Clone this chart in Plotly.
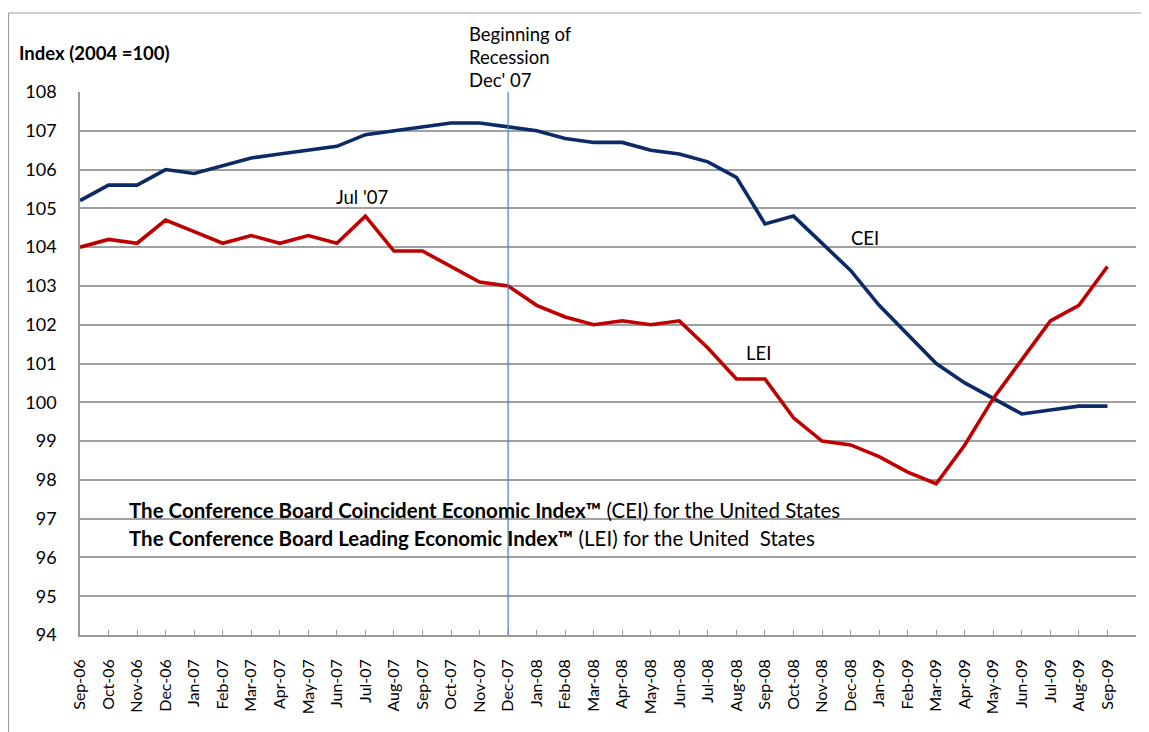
import plotly.graph_objects as go

months = ["Sep-06","Oct-06","Nov-06","Dec-06","Jan-07","Feb-07","Mar-07","Apr-07","May-07","Jun-07",
          "Jul-07","Aug-07","Sep-07","Oct-07","Nov-07","Dec-07","Jan-08","Feb-08","Mar-08","Apr-08",
          "May-08","Jun-08","Jul-08","Aug-08","Sep-08","Oct-08","Nov-08","Dec-08","Jan-09","Feb-09",
          "Mar-09","Apr-09","May-09","Jun-09","Jul-09","Aug-09","Sep-09"]
cei = [105.2,105.6,105.6,106.0,105.9,106.1,106.3,106.4,106.5,106.6,
       106.9,107.0,107.1,107.2,107.2,107.1,107.0,106.8,106.7,106.7,
       106.5,106.4,106.2,105.8,104.6,104.8,104.1,103.4,102.5,101.75,
       101.0,100.5,100.1,99.7,99.8,99.9,99.9]
lei = [104.0,104.2,104.1,104.7,104.4,104.1,104.3,104.1,104.3,104.1,
       104.8,103.9,103.9,103.5,103.1,103.0,102.5,102.2,102.0,102.1,
       102.0,102.1,101.4,100.6,100.6,99.6,99.0,98.9,98.6,98.2,
       97.9,98.9,100.1,101.1,102.1,102.5,103.5]
y_ticks = list(range(94, 109))
recession_month = "Dec-07"
peak_month = "Jul-07"
recession_lines = ["Beginning of", "Recession", "Dec' 07"]

xi = list(range(len(months)))
FONT = "Lato, Carlito, 'Liberation Sans', sans-serif"
TXT = dict(color="black", family=FONT)

fig = go.Figure()
fig.add_trace(go.Scatter(x=xi, y=cei, mode="lines", line=dict(color="#0B2A66", width=3.6),
                         name="CEI", showlegend=False))
fig.add_trace(go.Scatter(x=xi, y=lei, mode="lines", line=dict(color="#C00000", width=3.6),
                         name="LEI", showlegend=False))

rx = months.index(recession_month)
fig.add_shape(type="line", xref="x", yref="y", x0=rx, x1=rx, y0=94, y1=108,
              line=dict(color="#4A7EBB", width=1.2))

# outer chart frame: only top and left edges are visible in the crop
frame = dict(color="#A0A0A0", width=1.2)
fig.add_shape(type="line", xref="paper", yref="paper", x0=-0.0677, x1=1.1, y0=1.1455, y1=1.1455,
              line=frame, layer="below")
fig.add_shape(type="line", xref="paper", yref="paper", x0=-0.0677, x1=-0.0677, y0=-0.3, y1=1.1455,
              line=frame, layer="below")

ann = []
ann.append(dict(xref="paper", yref="paper", x=-0.0597, y=1.0718, xanchor="left", yanchor="middle",
                text="<b>Index (2004 =100)</b>", showarrow=False, font=dict(size=18.5, **TXT)))
for line, yy in zip(recession_lines, [1.1068, 1.0645, 1.0221]):
    ann.append(dict(xref="x", yref="paper", x=rx - 1.44, y=yy, xanchor="left", yanchor="middle",
                    text=line, showarrow=False, font=dict(size=18.5, **TXT)))
px = months.index(peak_month)
ann.append(dict(xref="x", yref="y", x=px - 0.12, y=105.29, xanchor="center", yanchor="middle",
                text="Jul '07", showarrow=False, font=dict(size=18.5, **TXT)))
ann.append(dict(xref="x", yref="y", x=27.5, y=104.24, xanchor="center", yanchor="middle",
                text="CEI", showarrow=False, font=dict(size=18.5, **TXT)))
ann.append(dict(xref="x", yref="y", x=23.76, y=101.27, xanchor="center", yanchor="middle",
                text="LEI", showarrow=False, font=dict(size=18.5, **TXT)))
ann.append(dict(xref="x", yref="y", x=1.647, y=97.22, xanchor="left", yanchor="middle",
                text="<b>The Conference Board Coincident Economic Index™</b> (CEI) for the United States",
                showarrow=False, font=dict(size=20.5, **TXT)))
ann.append(dict(xref="x", yref="y", x=1.647, y=96.50, xanchor="left", yanchor="middle",
                text="<b>The Conference Board Leading Economic Index™</b> (LEI) for the United  States",
                showarrow=False, font=dict(size=20.5, **TXT)))

fig.update_layout(
    width=1149, height=732,
    margin=dict(l=72, r=21, t=84, b=105),
    paper_bgcolor="white", plot_bgcolor="white",
    annotations=ann,
    font=dict(family=FONT, color="black"),
)
fig.update_xaxes(
    range=[0, len(months)], tickmode="array",
    tickvals=xi + [len(months)], ticktext=months + [""],
    tickangle=-90, tickfont=dict(size=16, **TXT),
    ticks="inside", ticklen=5, tickcolor="#999999", tickwidth=1.2,
    ticklabelstandoff=16,
    showline=True, linecolor="#999999", linewidth=1.5,
    showgrid=False, zeroline=False,
)
fig.update_yaxes(
    range=[94, 108], tickmode="array", tickvals=y_ticks,
    tickfont=dict(size=18, **TXT),
    showline=True, linecolor="#999999", linewidth=1.5,
    showgrid=True, gridcolor="#A0A0A0", gridwidth=1.5,
    zeroline=False, ticks="", ticklabelstandoff=18,
)
fig.write_html("out.html")
